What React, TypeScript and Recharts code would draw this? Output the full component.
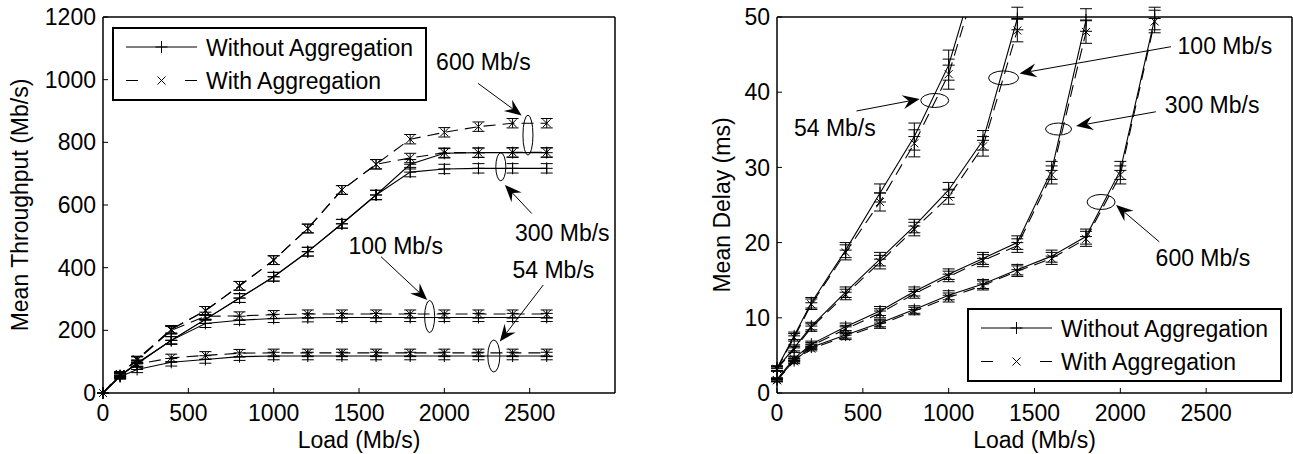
import { ComposedChart, Line, XAxis, YAxis, ErrorBar, ReferenceDot, ReferenceLine, Legend, Label } from "recharts";

const FONT = '"Liberation Sans", Arial, Helvetica, sans-serif';
const FS = 23;

// shared load axis
const xTicks = [0, 500, 1000, 1500, 2000, 2500];
const thrTicks = [0, 200, 400, 600, 800, 1000, 1200];
const delayTicks = [0, 10, 20, 30, 40, 50];

// ---- left panel: mean throughput (Mb/s) vs load
const loadThr = [0, 100, 200, 400, 600, 800, 1000, 1200, 1400, 1600, 1800, 2000, 2200, 2400, 2600];
const thr54NoAgg = [0, 52, 75, 98, 107, 116, 118, 118, 118, 118, 118, 118, 118, 118, 118];
const thr54Agg = [0, 57, 92, 112, 120, 127, 128, 128, 128, 128, 128, 128, 128, 128, 128];
const thr100NoAgg = [0, 55, 93, 168, 222, 232, 238, 240, 241, 241, 241, 241, 241, 241, 241];
const thr100Agg = [0, 60, 105, 200, 245, 246, 250, 252, 252, 252, 252, 252, 252, 252, 252];
const thr300NoAgg = [0, 55, 95, 168, 235, 303, 371, 451, 540, 632, 705, 715, 717, 717, 717];
const thr300Agg = [0, 60, 107, 203, 263, 342, 424, 525, 648, 730, 750, 767, 767, 768, 768];
const thr600NoAgg = [0, 55, 95, 168, 235, 303, 371, 451, 540, 632, 730, 765, 767, 767, 767];
const thr600Agg = [0, 60, 107, 203, 263, 342, 424, 525, 648, 730, 810, 832, 850, 861, 861];
const errThr54 = [0, 8, 10, 12, 12, 12, 12, 12, 12, 12, 12, 12, 12, 12, 12];
const errThr100 = [0, 8, 10, 12, 13, 13, 13, 13, 13, 13, 13, 13, 13, 13, 13];
const errThr300 = [0, 8, 10, 12, 13, 14, 14, 14, 14, 15, 15, 15, 15, 15, 15];
const errThr600 = [0, 8, 10, 12, 13, 14, 14, 14, 14, 15, 15, 15, 15, 15, 15];

// ---- right panel: mean delay (ms) vs load
const load54 = [0, 100, 200, 400, 600, 800, 1000, 1200];
const del54NoAgg = [3.3, 7.6, 12.0, 19.0, 26.6, 34.1, 43.6, 59.0];
const del54Agg = [3.2, 7.4, 11.8, 18.7, 25.4, 33.2, 42.4, 57.5];
const err54 = [0.3, 0.5, 0.7, 1.0, 1.2, 1.8, 2.0, 2.5];
const load100 = [0, 100, 200, 400, 600, 800, 1000, 1200, 1400];
const del100NoAgg = [3.3, 6.0, 8.9, 13.4, 17.8, 22.2, 27.0, 33.6, 49.8];
const del100Agg = [3.2, 5.8, 8.7, 13.1, 17.4, 21.8, 26.1, 32.8, 48.2];
const err100 = [0.3, 0.4, 0.5, 0.7, 0.9, 0.9, 1.0, 1.3, 1.5];
const load300 = [0, 100, 200, 400, 600, 800, 1000, 1200, 1400, 1600, 1800];
const del300NoAgg = [1.8, 4.6, 6.5, 8.8, 10.9, 13.5, 15.8, 17.9, 20.0, 29.6, 49.6];
const del300Agg = [1.7, 4.5, 6.3, 8.5, 10.6, 13.2, 15.5, 17.6, 19.6, 29.0, 48.0];
const err300 = [0.2, 0.3, 0.4, 0.5, 0.6, 0.6, 0.7, 0.8, 0.9, 1.2, 1.5];
const load600 = [0, 100, 200, 400, 600, 800, 1000, 1200, 1400, 1600, 1800, 2000, 2200];
const del600NoAgg = [1.8, 4.3, 6.1, 7.7, 9.3, 11.1, 13.0, 14.5, 16.4, 18.2, 20.8, 29.6, 49.8];
const del600Agg = [1.7, 4.2, 5.9, 7.5, 9.1, 10.9, 12.7, 14.3, 16.2, 17.9, 20.5, 29.0, 49.4];
const err600 = [0.2, 0.3, 0.3, 0.4, 0.5, 0.5, 0.6, 0.6, 0.7, 0.8, 1.0, 1.2, 1.5];

// annotations: label centre, arrow start -> tip, ellipse centre (data coords)
const thrNotes = [
  { text: "600 Mb/s", at: [2229, 1056], from: [2198, 988], to: [2453, 886], ring: [2490, 823], rx: 5, ry: 20 },
  { text: "300 Mb/s", at: [2691, 511], from: [2512, 573], to: [2355, 664], ring: [2331, 722], rx: 5, ry: 14 },
  { text: "100 Mb/s", at: [1715, 469], from: [1629, 435], to: [1900, 297], ring: [1914, 244], rx: 5, ry: 16 },
  { text: "54 Mb/s", at: [2639, 393], from: [2580, 345], to: [2325, 164], ring: [2290, 118], rx: 6, ry: 16 },
];
const delNotes = [
  { text: "54 Mb/s", at: [337, 35.2], from: [463, 37.5], to: [831, 39.1], ring: [919, 38.9], rx: 14, ry: 7 },
  { text: "100 Mb/s", at: [2609, 46.1], from: [2295, 46.05], to: [1413, 42.5], ring: [1320, 41.9], rx: 15, ry: 7 },
  { text: "300 Mb/s", at: [2535, 38.3], from: [2207, 37.4], to: [1742, 35.5], ring: [1640, 35.1], rx: 13, ry: 6 },
  { text: "600 Mb/s", at: [2481, 17.9], from: [2227, 20.1], to: [1975, 25.0], ring: [1888, 25.4], rx: 14, ry: 7.5 },
];

const rows = (xs: number[], ys: number[], es: number[]) => xs.map((x, i) => ({ x, y: ys[i], e: es[i] }));

const thrSeries = [
  { data: rows(loadThr, thr54NoAgg, errThr54), agg: false },
  { data: rows(loadThr, thr54Agg, errThr54), agg: true },
  { data: rows(loadThr, thr100NoAgg, errThr100), agg: false },
  { data: rows(loadThr, thr100Agg, errThr100), agg: true },
  { data: rows(loadThr, thr300NoAgg, errThr300), agg: false },
  { data: rows(loadThr, thr300Agg, errThr300), agg: true },
  { data: rows(loadThr, thr600NoAgg, errThr600), agg: false },
  { data: rows(loadThr, thr600Agg, errThr600), agg: true },
];
const delSeries = [
  { data: rows(load54, del54NoAgg, err54), agg: false },
  { data: rows(load54, del54Agg, err54), agg: true },
  { data: rows(load100, del100NoAgg, err100), agg: false },
  { data: rows(load100, del100Agg, err100), agg: true },
  { data: rows(load300, del300NoAgg, err300), agg: false },
  { data: rows(load300, del300Agg, err300), agg: true },
  { data: rows(load600, del600NoAgg, err600), agg: false },
  { data: rows(load600, del600Agg, err600), agg: true },
];

const Plus = (p: any) => {
  const { cx, cy, index } = p;
  if (!Number.isFinite(cx) || !Number.isFinite(cy)) return <g key={`p${index}`} />;
  return <path key={`p${index}`} d={`M${cx - 6},${cy}H${cx + 6}M${cx},${cy - 6}V${cy + 6}`} stroke="#000" strokeWidth={1} fill="none" />;
};

const Cross = (p: any) => {
  const { cx, cy, index } = p;
  if (!Number.isFinite(cx) || !Number.isFinite(cy)) return <g key={`c${index}`} />;
  const r = 4;
  return (
    <path key={`c${index}`} d={`M${cx - r},${cy - r}L${cx + r},${cy + r}M${cx - r},${cy + r}L${cx + r},${cy - r}`}
      stroke="#000" strokeWidth={1} fill="none" />
  );
};

const Arrow = (p: any) => {
  const { x1, y1, x2, y2 } = p;
  const len = Math.hypot(x2 - x1, y2 - y1) || 1;
  const ux = (x2 - x1) / len, uy = (y2 - y1) / len;
  const px = -uy, py = ux;
  const L = 17, W = 7, N = 11;
  const bx = x2 - ux * L, by = y2 - uy * L;
  const nx = x2 - ux * N, ny = y2 - uy * N;
  return (
    <g>
      <line x1={x1} y1={y1} x2={nx} y2={ny} stroke="#000" strokeWidth={1} />
      <path d={`M${x2},${y2}L${bx + px * W},${by + py * W}L${nx},${ny}L${bx - px * W},${by - py * W}Z`} fill="#000" />
    </g>
  );
};

const LegendBox = () => (
  <svg width={315} height={74} style={{ display: "block", fontFamily: FONT }}>
    <rect x={1} y={1} width={313} height={72} fill="#fff" stroke="#000" strokeWidth={2} />
    <line x1={14} y1={20} x2={85} y2={20} stroke="#000" strokeWidth={1} />
    <path d="M43.5,20H55.5M49.5,14V26" stroke="#000" strokeWidth={1} />
    <text x={94} y={29} fontSize={FS} fill="#000">Without Aggregation</text>
    <line x1={14} y1={53.5} x2={85} y2={53.5} stroke="#000" strokeWidth={1} strokeDasharray="12 47" />
    <path d="M45.5,49.5L53.5,57.5M45.5,57.5L53.5,49.5" stroke="#000" strokeWidth={1} />
    <text x={94} y={62} fontSize={FS} fill="#000">With Aggregation</text>
  </svg>
);

const axisLine = { stroke: "#000", strokeWidth: 1.5 };
const tickLine = { stroke: "#000", strokeWidth: 1 };
const tickText = { fill: "#000", fontSize: FS };

function Panel(props: any) {
  const { w, m, yAxisW, yMax, yTicks, yTitle, yTitleX, series, notes, legendPos } = props;
  return (
    <ComposedChart width={w} height={454} margin={m}>
      <XAxis xAxisId={0} dataKey="x" type="number" domain={[0, 3000]} ticks={xTicks} interval={0} allowDataOverflow
        height={61} tickSize={-5} tickMargin={17} axisLine={axisLine} tickLine={tickLine} tick={tickText}>
        <Label value="Load (Mb/s)" position="insideBottom" offset={6} fill="#000" fontSize={FS} />
      </XAxis>
      <XAxis xAxisId="top" orientation="top" dataKey="x" type="number" domain={[0, 3000]} ticks={xTicks} interval={0}
        height={1} tickSize={-5} axisLine={axisLine} tickLine={tickLine} tick={false} />
      <YAxis yAxisId={0} type="number" domain={[0, yMax]} ticks={yTicks} interval={0} allowDataOverflow
        width={yAxisW} tickSize={-5} tickMargin={12} axisLine={axisLine} tickLine={tickLine} tick={tickText}>
        <Label value={yTitle} angle={-90} position="insideLeft" offset={yTitleX} style={{ textAnchor: "middle" }} fill="#000" fontSize={FS} />
      </YAxis>
      <YAxis yAxisId="right" orientation="right" type="number" domain={[0, yMax]} ticks={yTicks} interval={0}
        width={1} tickSize={-5} axisLine={axisLine} tickLine={tickLine} tick={false} />

      {/* curves + error bars, clipped to the axes box */}
      {series.map((s: any, i: number) => (
        <Line key={`l${i}`} data={s.data} dataKey="y" type="linear" stroke="#000" strokeWidth={1.1}
          strokeDasharray={s.agg ? "12 7" : undefined} dot={false} activeDot={false}
          isAnimationActive={false} legendType="none">
          <ErrorBar dataKey="e" direction="y" width={6} stroke="#000" strokeWidth={1} isAnimationActive={false} />
        </Line>
      ))}
      {/* markers on the unclipped twin axes, only the points inside the y range */}
      {series.map((s: any, i: number) => (
        <Line key={`m${i}`} xAxisId="top" yAxisId="right" data={s.data.filter((d: any) => d.y <= yMax)} dataKey="y"
          stroke="none" strokeWidth={0} dot={s.agg ? Cross : Plus} activeDot={false}
          isAnimationActive={false} legendType="none" />
      ))}

      {notes.map((n: any, i: number) => (
        <ReferenceDot key={`r${i}`} x={n.ring[0]} y={n.ring[1]} ifOverflow="visible"
          shape={(p: any) => <ellipse cx={p.cx} cy={p.cy} rx={n.rx} ry={n.ry} fill="none" stroke="#000" strokeWidth={1} />} />
      ))}
      {notes.map((n: any, i: number) => (
        <ReferenceLine key={`a${i}`} segment={[{ x: n.from[0], y: n.from[1] }, { x: n.to[0], y: n.to[1] }]}
          ifOverflow="visible" shape={(p: any) => <Arrow {...p} />} />
      ))}
      {notes.map((n: any, i: number) => (
        <ReferenceDot key={`t${i}`} x={n.at[0]} y={n.at[1]} ifOverflow="visible"
          shape={(p: any) => (
            <text x={p.cx} y={p.cy} dy="0.35em" textAnchor="middle" fontSize={FS} fill="#000">{n.text}</text>
          )} />
      ))}

      <Legend layout="vertical" align="center" verticalAlign="middle" content={() => <LegendBox />}
        wrapperStyle={{ position: "absolute", left: legendPos[0], top: legendPos[1], width: 315, height: 74 }} />
    </ComposedChart>
  );
}

export default function App() {
  return (
    <div style={{ position: "relative", width: 1293, height: 454, background: "#fff", fontFamily: FONT }}>
      <style>{"body{margin:0}"}</style>
      <div style={{ position: "absolute", left: 0, top: 0 }}>
        <Panel w={640} m={{ top: 16, right: 24, bottom: 0, left: 0 }} yAxisW={103} yMax={1200} yTicks={thrTicks}
          yTitle="Mean Throughput (Mb/s)" yTitleX={19.5} series={thrSeries} notes={thrNotes} legendPos={[112, 27]} />
      </div>
      <div style={{ position: "absolute", left: 660, top: 0 }}>
        <Panel w={633} m={{ top: 16, right: 0, bottom: 0, left: 0 }} yAxisW={117} yMax={50} yTicks={delayTicks}
          yTitle="Mean Delay (ms)" yTitleX={62} series={delSeries} notes={delNotes} legendPos={[306.7, 307.7]} />
      </div>
    </div>
  );
}
